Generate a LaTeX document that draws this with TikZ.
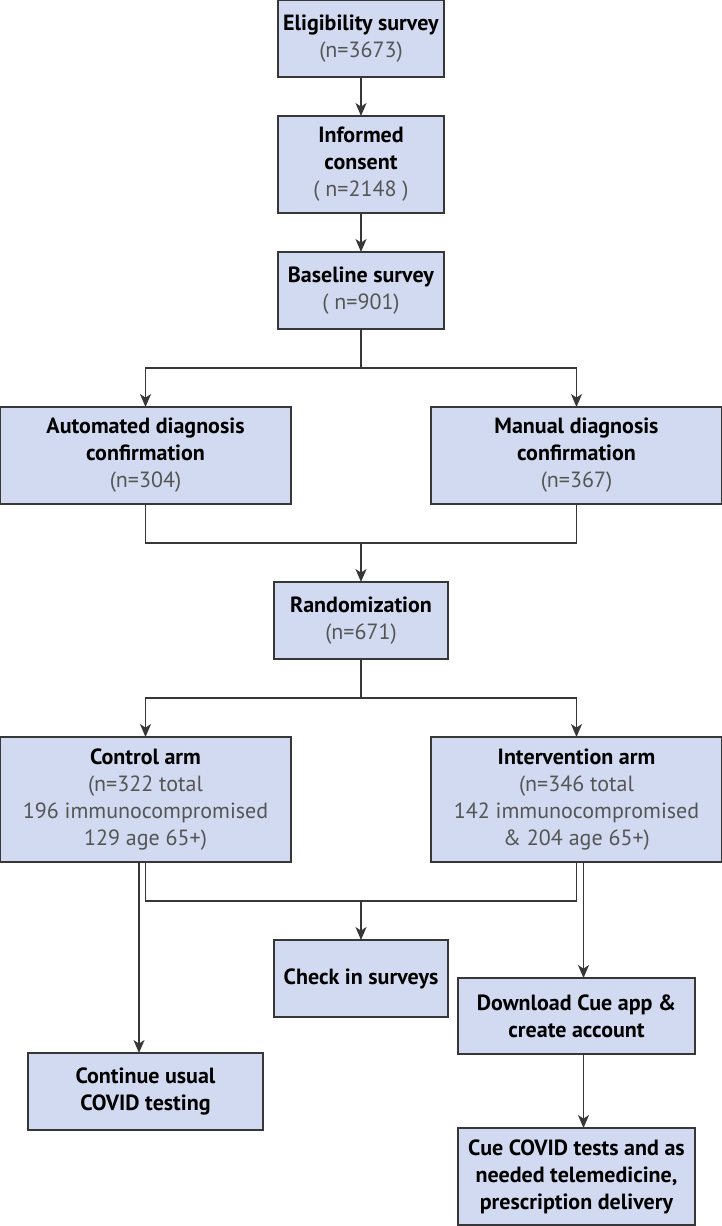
\documentclass[tikz,border=0pt]{standalone}
\usepackage{fontspec}
\setmainfont{PT Sans}
\usetikzlibrary{positioning,arrows.meta}
\definecolor{boxfill}{RGB}{209,218,240}
\definecolor{boxline}{RGB}{55,55,55}
\definecolor{numgray}{RGB}{85,85,85}
\newcommand{\nline}[1]{{\color{numgray}#1}}
\tikzset{
flowbox/.style={draw=boxline,fill=boxfill,line width=0.75pt,inner sep=2pt,outer sep=0pt,align=center,
font=\fontsize{11}{13.5}\selectfont},
smallbox/.style={flowbox,minimum height=38.5pt},
widebox/.style={flowbox,minimum width=145.5pt,minimum height=48.5pt},
link/.style={draw=boxline,line width=0.65pt,-{Stealth[length=6.5pt,width=5.5pt,inset=1.8pt]}},
plainlink/.style={draw=boxline,line width=0.65pt}
}

\begin{document}
\begin{tikzpicture}
\useasboundingbox (0,0) rectangle (361pt,-613pt);
\node[smallbox,minimum width=83pt] (elig) at (180.5pt,-19.25pt) {\textbf{Eligibility survey}\\\nline{(n=3673)}};
\node[flowbox,minimum width=83pt,minimum height=48.5pt,below=19.5pt of elig] (consent) {\textbf{Informed}\\\textbf{consent}\\\nline{( n=2148 )}};
\node[smallbox,minimum width=83pt,below=19.5pt of consent] (base) {\textbf{Baseline survey}\\\nline{( n=901)}};
\node[widebox,below=39pt of base,xshift=-107.75pt] (auto) {\textbf{Automated diagnosis}\\\textbf{confirmation}\\\nline{(n=304)}};
\node[widebox,below=39pt of base,xshift=107.75pt] (manual) {\textbf{Manual diagnosis}\\\textbf{confirmation}\\\nline{(n=367)}};
\node[smallbox,minimum width=87pt,below=39pt of auto,xshift=107.75pt] (rand) {\textbf{Randomization}\\\nline{(n=671)}};
\node[widebox,minimum height=62.5pt,below=39pt of rand,xshift=-107.75pt] (control) {\textbf{Control arm}\\\nline{(n=322 total}\\\nline{196 immunocompromised}\\\nline{129 age 65+)}};
\node[widebox,minimum height=62.5pt,below=39pt of rand,xshift=107.75pt] (interv) {\textbf{Intervention arm}\\\nline{(n=346 total}\\\nline{142 immunocompromised}\\\nline{\& 204 age 65+)}};
\node[smallbox,minimum width=87pt,below=39pt of control,xshift=107.75pt] (check) {\textbf{Check in surveys}};
\node[smallbox,minimum width=118.5pt,minimum height=38pt,below=58pt of interv] (download) {\textbf{Download Cue app \&}\\\textbf{create account}};
\node[flowbox,minimum width=118.5pt,minimum height=48.5pt,below=37pt of download] (cue) {\textbf{Cue COVID tests and as}\\\textbf{needed telemedicine,}\\\textbf{prescription delivery}};
\node[smallbox,minimum width=117.5pt,below=95.5pt of control] (usual) {\textbf{Continue usual}\\\textbf{COVID testing}};
% junction points
\coordinate[below=19.5pt of base] (splitA);
\coordinate[above=19.5pt of rand] (mergeA);
\coordinate[below=19.5pt of rand] (splitB);
\coordinate[above=19.5pt of check] (mergeB);
% connectors
\draw[link] (elig) -- (consent);
\draw[link] (consent) -- (base);
\draw[plainlink] (base.south) -- (splitA);
\draw[link] (splitA) -| (auto.north);
\draw[link] (splitA) -| (manual.north);
\draw[link] (auto.south) |- (mergeA) -- (rand.north);
\draw[plainlink] (manual.south) |- (mergeA);
\draw[plainlink] (rand.south) -- (splitB);
\draw[link] (splitB) -| (control.north);
\draw[link] (splitB) -| (interv.north);
\draw[link] (control.south) |- (mergeB) -- (check.north);
\draw[plainlink] (interv.south) |- (mergeB);
\draw[link] ([xshift=-3.25pt]control.south) -- ([xshift=-3.25pt]usual.north);
\draw[link] ([xshift=3.5pt]interv.south) -- ([xshift=3.5pt]download.north);
\draw[link] ([xshift=3.5pt]download.south) -- ([xshift=3.5pt]cue.north);
\end{tikzpicture}
\end{document}
